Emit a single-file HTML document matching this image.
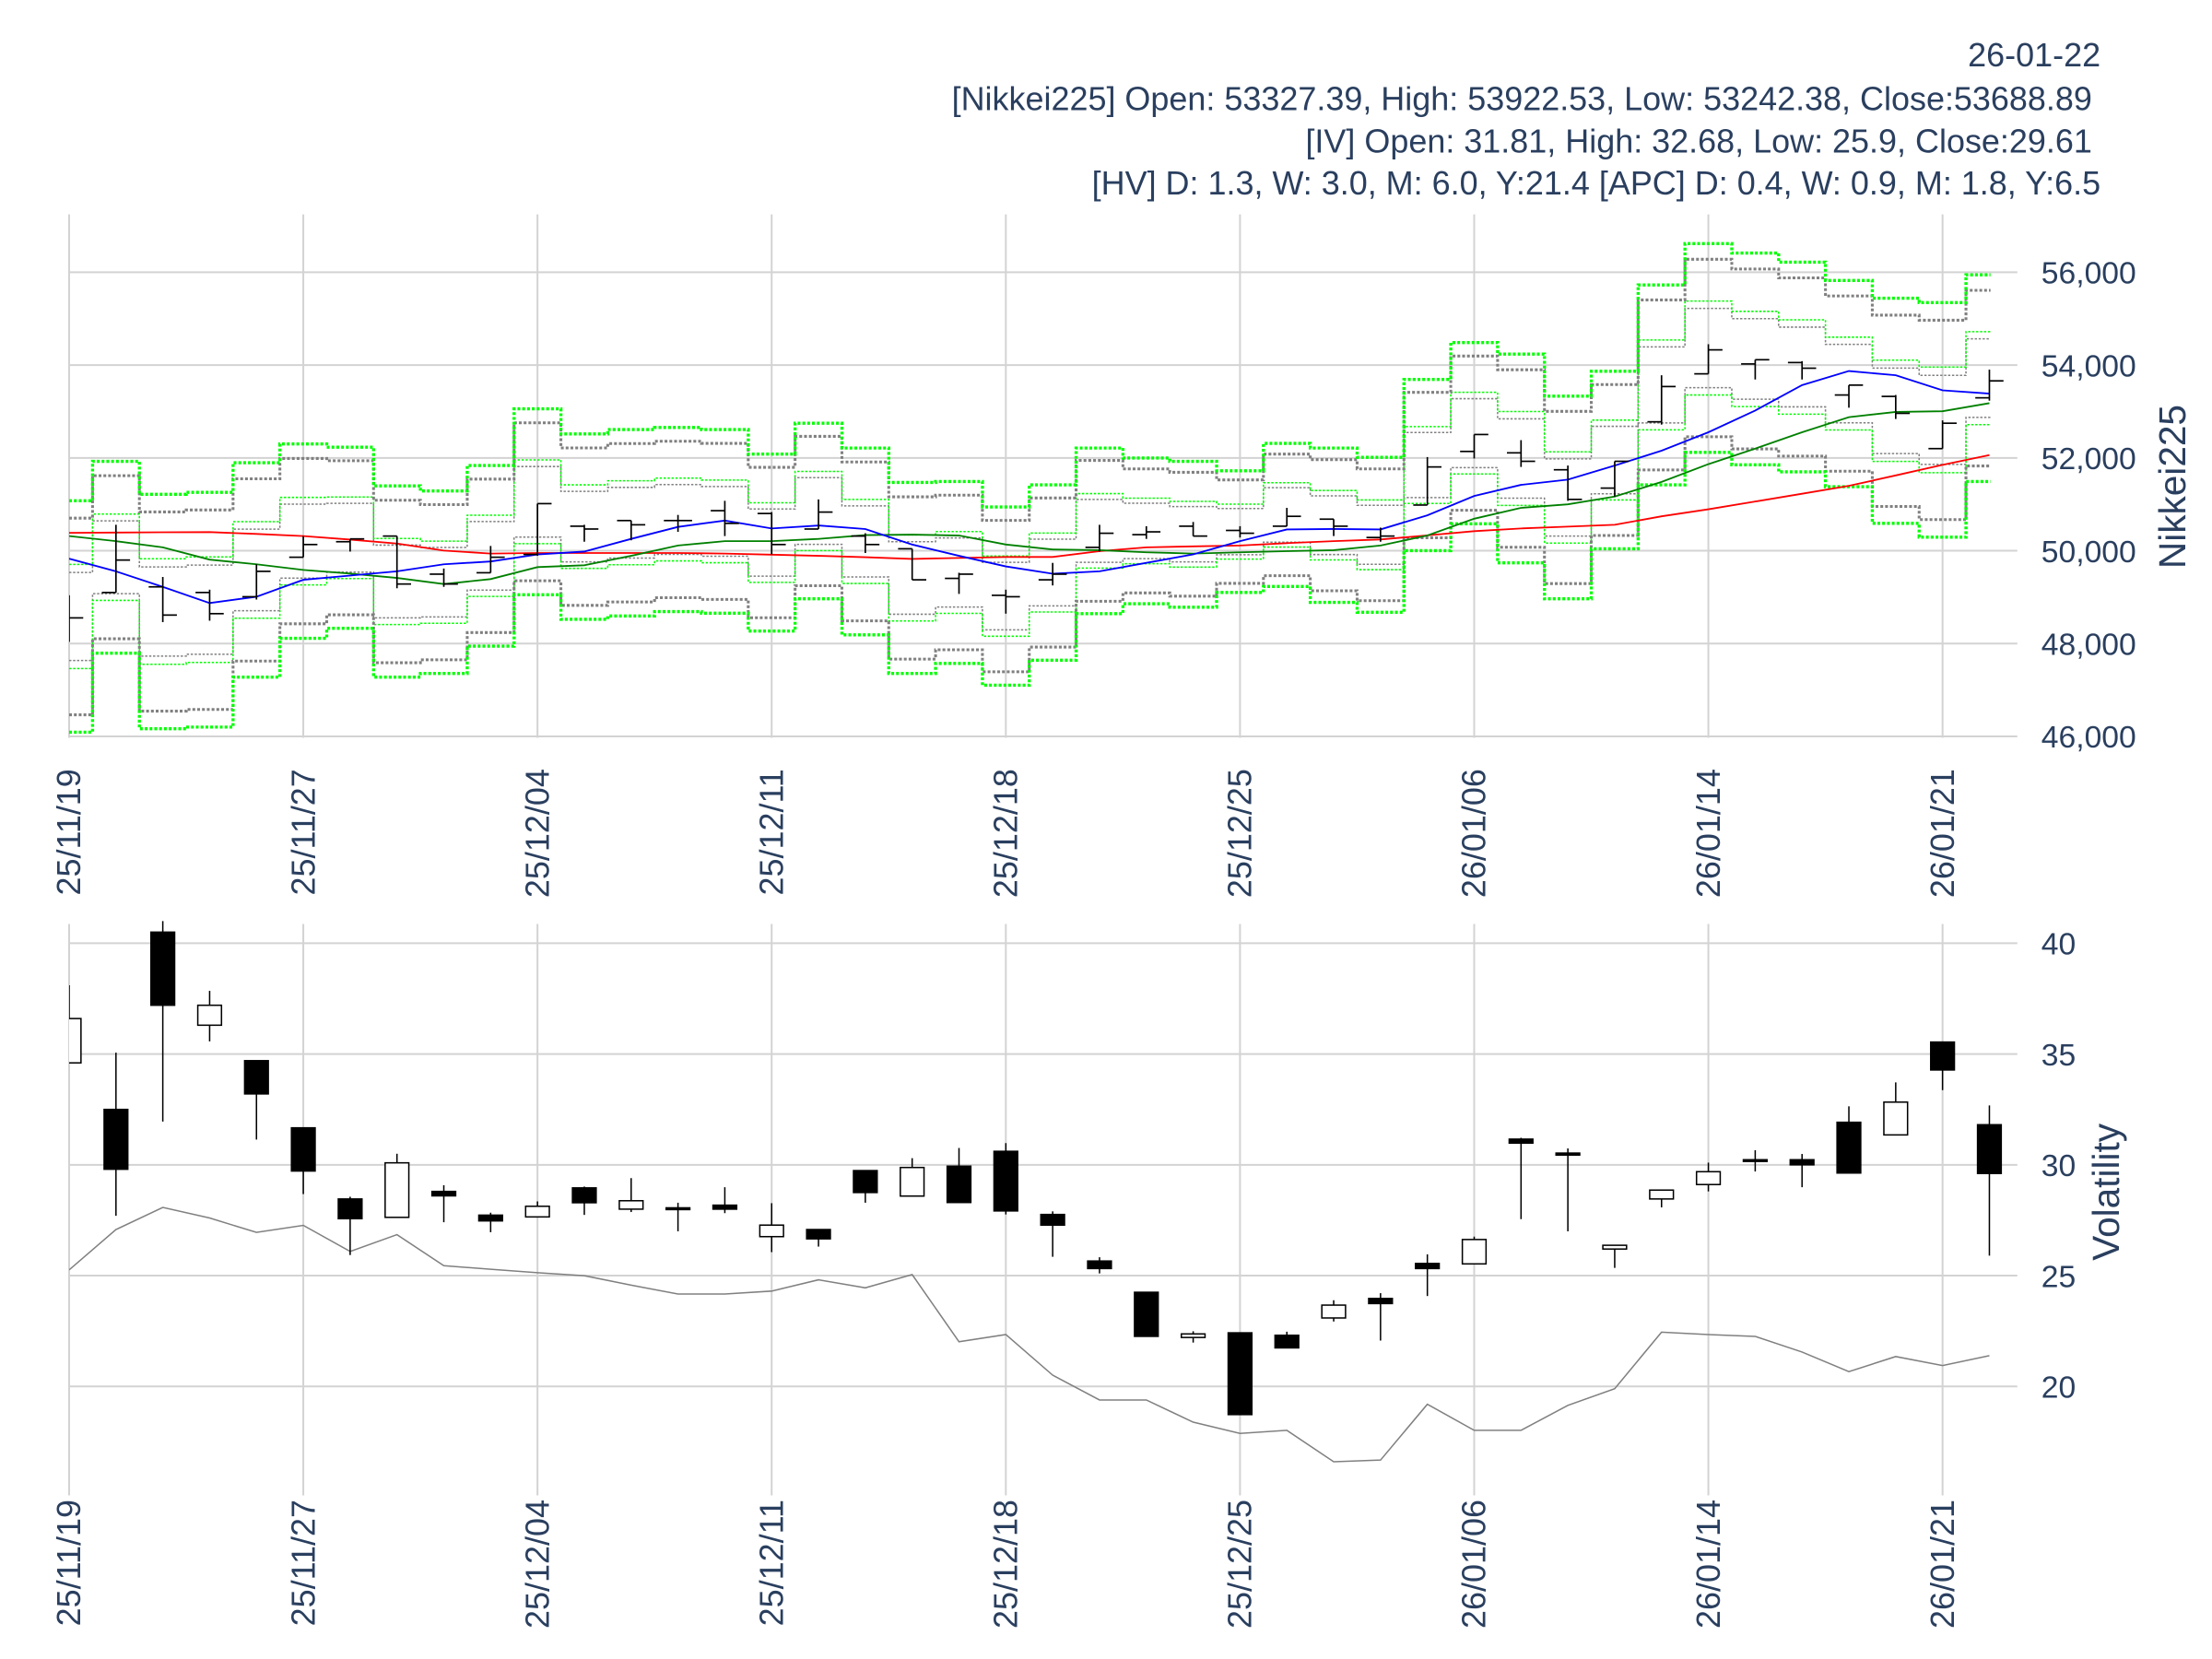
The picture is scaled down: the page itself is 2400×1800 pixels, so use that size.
<!DOCTYPE html>
<html><head><meta charset="utf-8"><style>
html,body{margin:0;padding:0;background:#fff;}
svg{display:block;}
text{font-family:"Liberation Sans",Arial,sans-serif;fill:#2a3f5f;}
</style></head><body>
<svg id="s" width="2400" height="1800" viewBox="0 0 1568 1176" xmlns="http://www.w3.org/2000/svg">
<defs><clipPath id="cp"><rect x="49" y="140" width="1400" height="940"/></clipPath></defs>
<rect width="1568" height="1176" fill="#fff"/>
<g id="grid"></g>
<g id="bands" clip-path="url(#cp)"></g>
<g id="lines" clip-path="url(#cp)"></g>
<g id="bars" clip-path="url(#cp)"></g>
<g id="labels"></g>
<text x="1489" y="47" font-size="23.5" text-anchor="end">26-01-22</text>
<text x="1483" y="78" font-size="23.5" text-anchor="end">[Nikkei225] Open: 53327.39, High: 53922.53, Low: 53242.38, Close:53688.89</text>
<text x="1483" y="108" font-size="23.5" text-anchor="end">[IV] Open: 31.81, High: 32.68, Low: 25.9, Close:29.61</text>
<text x="1489" y="138" font-size="23.5" text-anchor="end">[HV] D: 1.3, W: 3.0, M: 6.0, Y:21.4 [APC] D: 0.4, W: 0.9, M: 1.8, Y:6.5</text>
<text transform="translate(1549,345) rotate(-90)" font-size="26.5" text-anchor="middle">Nikkei225</text>
<text transform="translate(1502,845) rotate(-90)" font-size="26.5" text-anchor="middle">Volatility</text>
</svg>
<script>
const NS="http://www.w3.org/2000/svg";
function el(p,t,a,txt){const e=document.createElementNS(NS,t);for(const k in a)e.setAttribute(k,a[k]);if(txt!==undefined)e.textContent=txt;document.getElementById(p).appendChild(e);return e;}
const X=i=>49+33.2*i;
const N=42;
const gx=[0,5,10,15,20,25,30,35,40];
const dl=["25/11/19","25/11/27","25/12/04","25/12/11","25/12/18","25/12/25","26/01/06","26/01/14","26/01/21"];
const ty=v=>193+(56000-v)*0.0329;
const by=v=>668.6+(40-v)*15.71;
gx.forEach((d,k)=>{
  el("grid","line",{x1:X(d),x2:X(d),y1:152,y2:523,stroke:"#d3d3d3","stroke-width":1.3});
  el("grid","line",{x1:X(d),x2:X(d),y1:655,y2:1060,stroke:"#d3d3d3","stroke-width":1.3});
  el("labels","text",{transform:`translate(${X(d)+8},545) rotate(-90)`,"font-size":23.5,"text-anchor":"end"},dl[k]);
  el("labels","text",{transform:`translate(${X(d)+8},1063) rotate(-90)`,"font-size":23.5,"text-anchor":"end"},dl[k]);
});
[46000,48000,50000,52000,54000,56000].forEach(v=>{
  el("grid","line",{x1:49,x2:1430,y1:ty(v),y2:ty(v),stroke:"#d3d3d3","stroke-width":1.3});
  el("labels","text",{x:1447,y:ty(v)+8,"font-size":22},v.toLocaleString("en-US"));
});
[20,25,30,35,40].forEach(v=>{
  el("grid","line",{x1:49,x2:1430,y1:by(v),y2:by(v),stroke:"#d3d3d3","stroke-width":1.3});
  el("labels","text",{x:1447,y:by(v)+8,"font-size":22},String(v));
});
const BT=[355,327,350.4,349,328,314.7,317,344.4,348,330,289.8,307.6,304.5,303,304.5,321.9,300,317.6,342,341.3,359.4,343.7,317.6,324.7,327,333.7,314.3,317.6,324.2,269,242.8,251,280.8,263.2,202,172.7,179.4,185.8,198.8,211.4,214.5,194.8];
const BB=[519,463,516.6,515.4,480,452.5,445.4,480,477.4,458,421.6,439,436.6,433.5,434.7,447.3,424.5,450,477.4,470.3,485.7,468,435,428,430.4,420,415.7,427,434,390.3,371.3,399,424.5,389,343.7,320.7,329.5,334.5,345,371,380.8,341.3];
function stepPath(f){let d="";for(let i=0;i<N;i++){const x0=Math.max(49,X(i)-16.6),x1=Math.min(1411,X(i)+16.6),y=f(i).toFixed(1);d+=(i?`L${x0.toFixed(1)},${y}`:`M${x0},${y}`)+`L${x1.toFixed(1)},${y}`;}return d;}
const levels=[[1,"#00ff00",2.2,"2,1.4"],[0.85,"#808080",2,"2,1.4"],[0.45,"#00ff00",1,"1.6,1.2"],[0.38,"#808080",1,"1.6,1.2"]];
levels.slice().reverse().forEach(([r,c,w,da])=>{
  [-1,1].forEach(s=>{
    el("bands","path",{d:stepPath(i=>{const cc=(BT[i]+BB[i])/2,h=(BB[i]-BT[i])/2;return cc+s*r*h;}),fill:"none",stroke:c,"stroke-width":w,"stroke-dasharray":da});
  });
});
const BL=[396,405,416,427.5,423,411,408,405,400,398,393,391,382,373.5,369,374.6,372.5,375,386,394,401.5,406.7,405,399,393,383.6,375.3,375,375.3,365.3,351.6,343.7,340,330,319.5,306.4,291,273,263,266,276.7,279];
const GR=[380,383.6,388,396.7,400,404,406.6,409.7,414,410.5,402,400.7,394,386.7,383.6,383.6,382,379.3,379,379.6,386,389.5,390,391.5,392.4,391.5,390.7,390,386.7,379.6,367.7,360,357.5,352,341.6,329,318,306.4,295.7,292,291.5,285.8];
const RD=[377.7,377.5,377.3,377.2,378.5,380,382.5,385.3,390.3,392.4,392,392,392,392,392.4,393.2,394,395,396.2,395.5,394.8,394.8,390.7,388,387.3,386.7,385,383.6,382.4,379.5,376.5,374.6,373.3,372,366,361,355.5,350,344.4,337,329.5,322.6];
[[RD,"#ff0000"],[GR,"#008000"],[BL,"#0000ff"]].forEach(([a,c])=>{
  el("lines","polyline",{points:a.map((y,i)=>X(i).toFixed(1)+","+y).join(" "),fill:"none",stroke:c,"stroke-width":1.2});
});
const T=[[440,422,455,438],[420,372,420,397],[416,409,441,436],[420,418,440,435],[423,400,425,405],[395,380,395,386],[384,382,391,382],[380,380,417,414],[407,403,416,414],[406,387,406,395],[393,357,394,357],[373,372,384,375],[369,369,383,372],[369,365,377,369],[362,355,380,371],[364,363,393,386],[375,354,375,363],[380,378,392,386],[389,389,411,411],[410,406,421,407],[422,418,435,423],[411,399,415,407],[388,372,391,378],[379,373,382,377],[373,370,380,380],[376,373,381,378],[373,360,373,366],[368,368,380,373],[381,374,384,380],[358,324,358,331],[320,308,325,308],[321,312,331,327],[333,330,355,354],[346,327,352,327],[299,266,301,274],[265,244,265,248],[258,255,269,255],[257,256,269,261],[280,273,289,273],[281,280,297,293],[318,298,318,300],[282,262,284,270]];
T.forEach(([o,h,l,c],i)=>{const x=X(i);
  el("bars","line",{x1:x,x2:x,y1:h,y2:l,stroke:"#000","stroke-width":1.1});
  el("bars","line",{x1:x-10,x2:x,y1:o,y2:o,stroke:"#000","stroke-width":1.1});
  el("bars","line",{x1:x,x2:x+10,y1:c,y2:c,stroke:"#000","stroke-width":1.1});
});
const V=[[34.6,38.1,34.6,36.6],[32.5,35.06,27.7,29.8],[40.5,41.0,31.95,37.2],[36.3,37.85,35.57,37.2],[34.7,34.7,31.14,33.2],[31.67,31.67,28.68,29.72],[28.46,28.56,25.93,27.57],[27.63,30.5,27.63,30.09],[28.8,29.08,27.41,28.6],[27.73,27.84,26.96,27.47],[27.65,28.35,27.65,28.13],[28.96,29.02,27.74,28.29],[28.0,29.4,27.87,28.38],[28.06,28.29,27.0,27.98],[28.18,28.99,27.82,28.0],[26.76,28.27,26.06,27.28],[27.08,27.08,26.31,26.66],[29.74,29.74,28.29,28.75],[28.59,30.3,28.59,29.88],[29.94,30.76,28.3,28.3],[30.61,30.98,27.76,27.92],[27.76,27.9,25.85,27.28],[25.66,25.83,25.1,25.32],[24.25,24.25,22.26,22.26],[22.21,22.49,21.98,22.37],[22.42,22.42,18.73,18.73],[22.31,22.47,21.74,21.74],[23.09,23.89,22.93,23.67],[23.97,24.21,22.07,23.74],[25.55,25.96,24.08,25.32],[25.53,26.76,25.53,26.63],[31.16,31.22,27.55,30.98],[30.53,30.74,27.0,30.44],[26.2,26.37,25.35,26.37],[28.46,28.86,28.08,28.86],[29.11,30.1,28.8,29.69],[30.23,30.66,29.7,30.17],[30.23,30.49,28.99,30.0],[31.92,32.64,29.63,29.63],[31.35,33.72,31.35,32.83],[35.54,35.54,33.37,34.28],[31.81,32.68,25.9,29.61]];
V.forEach(([o,h,l,c],i)=>{const x=X(i);const up=c>=o;
  el("bars","line",{x1:x,x2:x,y1:by(h),y2:by(l),stroke:"#000","stroke-width":1});
  const t=by(Math.max(o,c)),b=by(Math.min(o,c));
  el("bars","rect",{x:x-8.4,y:t,width:16.8,height:Math.max(1.2,b-t),fill:up?"#fff":"#000",stroke:"#000","stroke-width":1});
});
const HV=[25.26,27.08,28.08,27.6,26.95,27.27,26.09,26.85,25.45,25.29,25.13,25.0,24.57,24.17,24.17,24.3,24.81,24.45,25.05,22.02,22.34,20.51,19.39,19.39,18.39,17.88,18.02,16.6,16.68,19.2,18.02,18.02,19.15,19.9,22.45,22.34,22.26,21.55,20.67,21.35,20.94,21.39];
el("lines","polyline",{points:HV.map((v,i)=>X(i).toFixed(1)+","+by(v).toFixed(1)).join(" "),fill:"none",stroke:"#808080","stroke-width":1});
</script>
</body></html>
